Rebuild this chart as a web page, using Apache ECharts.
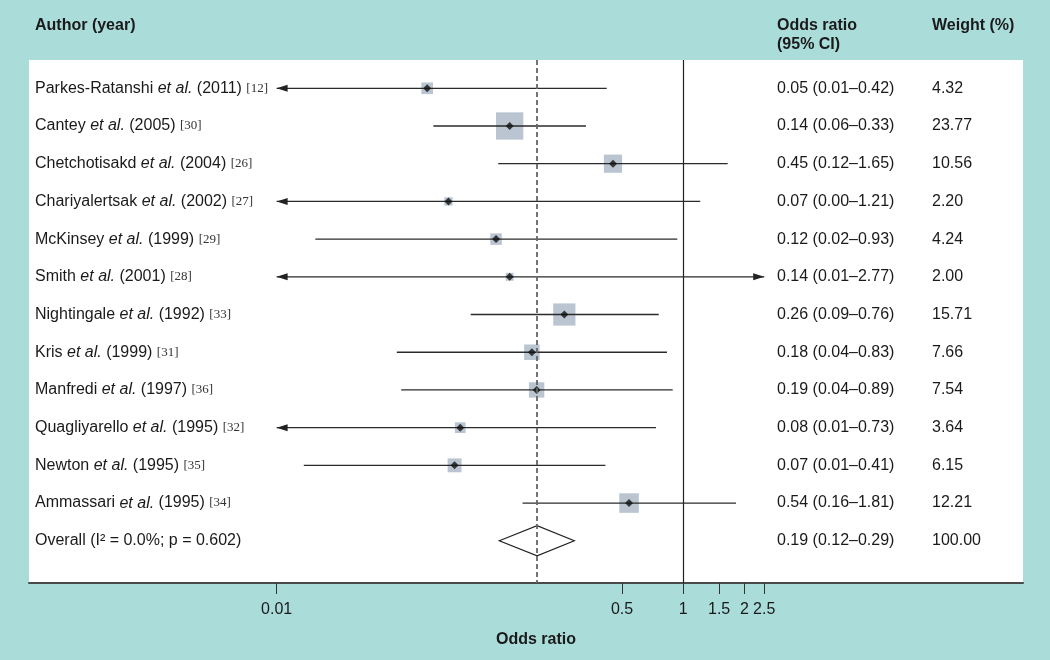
<!DOCTYPE html>
<html><head><meta charset="utf-8">
<script src="https://cdn.jsdelivr.net/npm/echarts@6/dist/echarts.min.js"></script>
<style>html,body{margin:0;padding:0;background:#aadcda;} #c{width:1050px;height:660px;}</style>
</head><body><div id="c"></div>
<script>
// ---- data ----
const authors = ['Parkes-Ratanshi','Cantey','Chetchotisakd','Chariyalertsak','McKinsey','Smith','Nightingale','Kris','Manfredi','Quagliyarello','Newton','Ammassari'];
const years = ['2011','2005','2004','2002','1999','2001','1992','1999','1997','1995','1995','1995'];
const refs = ['12','30','26','27','29','28','33','31','36','32','35','34'];
// plotted values
const orVals = [0.055,0.140,0.451,0.070,0.120,0.140,0.260,0.180,0.190,0.080,0.075,0.541];
const loVals = [0.007,0.059,0.123,0.003,0.0155,0.007,0.090,0.039,0.041,0.008,0.0136,0.162];
const hiVals = [0.420,0.332,1.653,1.212,0.934,2.77,0.757,0.831,0.887,0.734,0.414,1.816];
// printed values
const orText = ['0.05','0.14','0.45','0.07','0.12','0.14','0.26','0.18','0.19','0.08','0.07','0.54'];
const loText = ['0.01','0.06','0.12','0.00','0.02','0.01','0.09','0.04','0.04','0.01','0.01','0.16'];
const hiText = ['0.42','0.33','1.65','1.21','0.93','2.77','0.76','0.83','0.89','0.73','0.41','1.81'];
const weights = [4.32,23.77,10.56,2.20,4.24,2.00,15.71,7.66,7.54,3.64,6.15,12.21];
const overallLabel = 'Overall (I\u00b2 = 0.0%; p = 0.602)';
const overallVals = [0.191, 0.1245, 0.291]; // OR, lo, hi
const overallText = ['0.19','0.12','0.29'];
const overallWeight = '100.00';
const tickValues = [0.01,0.5,1,1.5,2,2.5];
const tickLabels = ['0.01','0.5','1','1.5','2','2.5'];

// ---- chart ----
const FONT = '"Liberation Sans", Arial, Helvetica, sans-serif';
const TXT = '#1a1a1a';
const clipMin = tickValues[0], clipMax = tickValues[tickValues.length - 1];
const nRows = authors.length + 1;
const rowIdx = Array.from({length: nRows}, (_, i) => i + 1);

const chart = echarts.init(document.getElementById('c'), null, {renderer: 'canvas'});

function leftLabel(v) {
  const i = Math.round(v) - 1;
  if (i < authors.length) return '{n|' + authors[i] + ' }{i|et al.}{n| (' + years[i] + ') }{r|[' + refs[i] + ']}';
  return '{n|' + overallLabel + '}';
}
function rightLabel(v) {
  const i = Math.round(v) - 1;
  if (i < authors.length) return '{o|' + orText[i] + ' (' + loText[i] + '\u2013' + hiText[i] + ')}{w|' + weights[i].toFixed(2) + '}';
  return '{o|' + overallText[0] + ' (' + overallText[1] + '\u2013' + overallText[2] + ')}{w|' + overallWeight + '}';
}

const yBase = {
  type: 'value', inverse: true, min: 0.25, max: 14.12,
  axisLine: {show: false}, axisTick: {show: false}, splitLine: {show: false}
};

const option = {
  animation: false,
  backgroundColor: '#aadcda',
  grid: {left: 29, right: 27, top: 60, bottom: 77, show: true, backgroundColor: '#ffffff', borderWidth: 0},
  xAxis: {
    type: 'log', logBase: 10,
    min: Math.exp((29 - 683.3) / 88.31), max: Math.exp((1023 - 683.3) / 88.31),
    axisLine: {show: true, lineStyle: {color: '#4a4a4a', width: 2}},
    axisTick: {show: true, customValues: tickValues, length: 11, lineStyle: {color: '#333', width: 1}},
    axisLabel: {customValues: tickValues, margin: 19, color: TXT, fontFamily: FONT, fontSize: 16,
      formatter: v => { const k = tickValues.findIndex(t => Math.abs(t - v) < 1e-9); return k >= 0 ? tickLabels[k] : ''; }},
    splitLine: {show: false}, minorTick: {show: false},
    name: 'Odds ratio', nameLocation: 'middle', nameGap: 49,
    nameTextStyle: {fontFamily: FONT, fontSize: 16, fontWeight: 'bold', color: TXT, padding: [0, 0, 0, 20]}
  },
  yAxis: [
    Object.assign({}, yBase, {
      position: 'left',
      axisLabel: {customValues: rowIdx, inside: true, align: 'left', margin: 6, formatter: leftLabel,
        rich: {
          n: {fontFamily: FONT, fontSize: 16, color: TXT},
          i: {fontFamily: FONT, fontSize: 16, color: TXT, fontStyle: 'italic'},
          r: {fontFamily: '"Liberation Serif", "Times New Roman", serif', fontSize: 13, color: '#333'}
        }}
    }),
    Object.assign({}, yBase, {
      position: 'right',
      axisLabel: {customValues: rowIdx, inside: true, align: 'left', margin: 246, formatter: rightLabel,
        rich: {
          o: {fontFamily: FONT, fontSize: 16, color: TXT, width: 155},
          w: {fontFamily: FONT, fontSize: 16, color: TXT}
        }}
    })
  ],
  graphic: [
    {type: 'text', x: 35, y: 26, style: {text: 'Author (year)', font: 'bold 16px ' + FONT, fill: TXT, verticalAlign: 'middle'}},
    {type: 'text', x: 777, y: 26, style: {text: 'Odds ratio', font: 'bold 16px ' + FONT, fill: TXT, verticalAlign: 'middle'}},
    {type: 'text', x: 777, y: 45, style: {text: '(95% CI)', font: 'bold 16px ' + FONT, fill: TXT, verticalAlign: 'middle'}},
    {type: 'text', x: 932, y: 26, style: {text: 'Weight (%)', font: 'bold 16px ' + FONT, fill: TXT, verticalAlign: 'middle'}}
  ],
  series: [
    { // reference lines
      type: 'scatter', data: [], z: 0, silent: true,
      markLine: {
        silent: true, symbol: ['none', 'none'], label: {show: false},
        data: [
          {xAxis: 1, lineStyle: {type: 'solid', color: '#222', width: 1.2}},
          {xAxis: overallVals[0], lineStyle: {type: [5, 3], color: '#666', width: 1.8}}
        ]
      }
    },
    { // weight boxes
      type: 'scatter', z: 1, silent: true,
      data: orVals.map((v, i) => [v, i + 1, weights[i]]),
      symbol: 'rect', symbolSize: val => 5.6 * Math.sqrt(val[2]),
      itemStyle: {color: '#a9b7c6'}
    },
    { // confidence intervals
      type: 'custom', z: 2, silent: true,
      data: loVals.map((v, i) => [v, hiVals[i], i + 1]),
      encode: {x: [0, 1], y: 2},
      renderItem: (params, api) => {
        const lo = api.value(0), hi = api.value(1), row = api.value(2);
        const p1 = api.coord([Math.max(lo, clipMin), row]);
        const p2 = api.coord([Math.min(hi, clipMax), row]);
        const ch = [{type: 'line', shape: {x1: p1[0], y1: p1[1], x2: p2[0], y2: p2[1]}, style: {stroke: '#2b2b2b', lineWidth: 1.3}}];
        if (lo < clipMin) ch.push({type: 'polygon', shape: {points: [[p1[0], p1[1]], [p1[0] + 11, p1[1] - 3.5], [p1[0] + 11, p1[1] + 3.5]]}, style: {fill: '#222'}});
        if (hi > clipMax) ch.push({type: 'polygon', shape: {points: [[p2[0], p2[1]], [p2[0] - 11, p2[1] - 3.5], [p2[0] - 11, p2[1] + 3.5]]}, style: {fill: '#222'}});
        return {type: 'group', children: ch};
      }
    },
    { // point estimates
      type: 'scatter', z: 3, silent: true,
      data: orVals.map((v, i) => [v, i + 1]),
      symbol: 'diamond', symbolSize: 8, itemStyle: {color: '#111'}
    },
    { // overall diamond
      type: 'custom', z: 4, silent: true,
      data: [[overallVals[1], overallVals[2], nRows, overallVals[0]]],
      encode: {x: [0, 1, 3], y: 2},
      renderItem: (params, api) => {
        const row = api.value(2);
        const a = api.coord([api.value(0), row]);
        const b = api.coord([api.value(1), row]);
        const c = api.coord([api.value(3), row]);
        const h = 15;
        return {type: 'polygon', shape: {points: [a, [c[0], c[1] - h], b, [c[0], c[1] + h]]},
          style: {fill: '#ffffff', stroke: '#222', lineWidth: 1.2}};
      }
    }
  ]
};
chart.setOption(option);
</script>
</body></html>
